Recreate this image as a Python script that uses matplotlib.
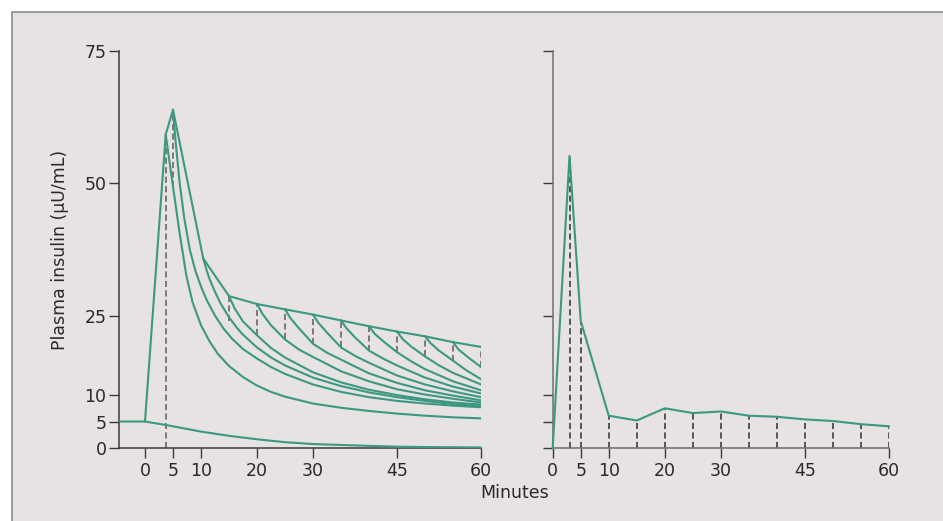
import matplotlib
matplotlib.use("Agg")
import matplotlib.pyplot as plt
from matplotlib.patches import Rectangle

# top line of the left panel (basal, rise, peaks, envelope)
env_t = [-5, 0, 3.7, 5, 10.4, 15, 20, 25, 30, 35, 40, 45, 50, 55, 60]
env_v = [5, 5, 59.2, 63.9, 35.8, 28.7, 27.2, 26.2, 25.2, 24.1, 23.0, 22.0, 21.1, 20.0, 19.1]

# basal insulin decaying after the start
basal_t = [0, 4, 10, 15, 20, 25, 30, 40, 45, 50, 60]
basal_v = [5, 4.3, 3.1, 2.3, 1.65, 1.1, 0.75, 0.4, 0.25, 0.18, 0.1]

# decay curves, one per pulse
c03_t = [3.7, 5, 6.2, 7.4, 8.5, 10, 11.5, 13, 15, 17.5, 20, 22.5, 25, 30, 35, 40, 45, 50, 55, 60]
c03_v = [59.2, 49.4, 40.5, 32.5, 27.5, 23.2, 20.2, 17.8, 15.5, 13.4, 11.8, 10.6, 9.7, 8.4, 7.6, 7.0, 6.5, 6.1, 5.8, 5.6]
c05_t = [5, 5.5, 6.2, 7, 8, 9, 10, 11, 12.5, 14, 15.5, 17.5, 20, 22.5, 25, 30, 35, 40, 45, 50, 55, 60]
c05_v = [63.9, 57.5, 50.0, 43.5, 37.5, 33.5, 30.5, 28.0, 25.0, 22.6, 20.7, 18.7, 16.9, 15.3, 14.0, 12.0, 10.6, 9.6, 8.9, 8.4, 8.0, 7.7]
c10_t = [10.4, 11, 11.5, 12.5, 13.5, 15, 16.5, 17.5, 20, 22.5, 25, 30, 35, 40, 45, 50, 55, 60]
c10_v = [35.8, 33.6, 32.0, 29.5, 27.3, 24.7, 22.6, 21.4, 19.0, 17.1, 15.6, 13.3, 11.7, 10.5, 9.6, 8.9, 8.3, 7.9]
c15_t = [15, 16, 17.5, 20, 22.5, 25, 30, 35, 40, 45, 50, 55, 60]
c15_v = [28.7, 26.4, 23.9, 21.3, 18.9, 17.1, 14.3, 12.4, 11.0, 10.0, 9.2, 8.6, 8.2]
c20_t = [20, 21, 22.5, 25, 27.5, 30, 35, 40, 45, 50, 55, 60]
c20_v = [27.2, 25.3, 23.2, 20.5, 18.6, 17.2, 14.5, 12.6, 11.1, 10.1, 9.3, 8.6]
c25_t = [25, 26, 27.5, 30, 32.5, 35, 40, 45, 50, 55, 60]
c25_v = [26.2, 24.5, 22.6, 19.7, 18.0, 16.7, 14.1, 12.3, 10.9, 9.9, 9.0]
c30_t = [30, 31, 32.5, 35, 37.5, 40, 45, 50, 55, 60]
c30_v = [25.2, 23.6, 21.8, 19.0, 17.4, 16.1, 13.7, 12.0, 10.7, 9.6]
c35_t = [35, 36, 37.5, 40, 42.5, 45, 50, 55, 60]
c35_v = [24.1, 22.6, 20.9, 18.4, 16.9, 15.6, 13.3, 11.6, 10.3]
c40_t = [40, 41, 42.5, 45, 47.5, 50, 55, 60]
c40_v = [23.0, 21.6, 20.2, 18.1, 16.4, 14.9, 12.6, 10.9]
c45_t = [45, 46, 47.5, 50, 52.5, 55, 60]
c45_v = [22.0, 20.6, 19.2, 17.3, 15.6, 14.2, 12.0]
c50_t = [50, 51, 52.5, 55, 57.5, 60]
c50_v = [21.1, 19.8, 18.4, 16.5, 14.6, 13.0]
c55_t = [55, 56, 57.5, 60]
c55_v = [20.0, 18.6, 17.3, 15.3]

curves = [(c03_t, c03_v), (c05_t, c05_v), (c10_t, c10_v), (c15_t, c15_v),
          (c20_t, c20_v), (c25_t, c25_v), (c30_t, c30_v), (c35_t, c35_v),
          (c40_t, c40_v), (c45_t, c45_v), (c50_t, c50_v), (c55_t, c55_v)]

# dashed increments in the left panel
drop_t = [3.7, 5, 15, 20, 25, 30, 35, 40, 45, 50, 55, 60]
drop_top = [59.2, 63.9, 28.7, 27.2, 26.2, 25.2, 24.1, 23.0, 22.0, 21.1, 20.0, 19.1]
drop_bot = [0, 49.4, 23.9, 21.3, 20.5, 19.7, 19.0, 18.4, 18.1, 17.3, 16.5, 15.3]

# right panel
r_t = [0, 3, 5, 10, 15, 20, 25, 30, 35, 40, 45, 50, 55, 60]
r_v = [0, 55.2, 24.0, 6.1, 5.2, 7.5, 6.6, 6.9, 6.1, 5.9, 5.4, 5.1, 4.5, 4.1]

xticks = [0, 5, 10, 20, 30, 45, 60]
yticks = [0, 5, 10, 25, 50, 75]

teal = "#3c9883"
dash_col = "#5c5c5c"
bg = "#e6e3e2"
fnt = "DejaVu Sans"
fs = 12.5
txt_col = "#2a2a2a"

fig = plt.figure(figsize=(9.43, 5.21), dpi=100)
fig.patch.set_facecolor("white")
fig.patches.append(Rectangle((12 / 943, -0.05), 1.0, 1 - 12 / 521 + 0.05,
                             transform=fig.transFigure, facecolor=bg,
                             edgecolor="#8c8c8c", linewidth=1.2, zorder=-10))

ax1 = fig.add_axes([119 / 943, 73 / 521, 362 / 943, 397 / 521])
ax2 = fig.add_axes([552.7 / 943, 73 / 521, 336.3 / 943, 397 / 521])

for ax in (ax1, ax2):
    ax.set_zorder(1)
    ax.set_facecolor("none")
    for s in ("top", "right"):
        ax.spines[s].set_visible(False)
    for s in ("left", "bottom"):
        ax.spines[s].set_color("#3a3a3a")
        ax.spines[s].set_linewidth(1.1)
    ax.set_ylim(0, 75)
    ax.set_yticks(yticks)
    ax.set_xticks(xticks)
    ax.set_xticklabels([str(v) for v in xticks], fontfamily=fnt, fontsize=fs, color=txt_col)
    ax.tick_params(direction="out", length=7, width=1.0, color="#3a3a3a", pad=3)

ax1.set_xlim(-4.64, 60)
ax1.set_yticklabels([str(v) for v in yticks], fontfamily=fnt, fontsize=fs, color=txt_col)
ax1.tick_params(axis="y", pad=2)
ax2.set_xlim(0, 60)
ax2.set_yticklabels([])
ax2.spines["left"].set_color("#6e6e6e")
ax2.spines["bottom"].set_color("#6e6e6e")

# left panel
ax1.vlines(drop_t, drop_bot, drop_top, colors=dash_col, linestyles=(0, (4, 2.2)),
           linewidth=1.1, zorder=2)
ax1.plot(basal_t, basal_v, color=teal, lw=1.5, zorder=3)
for ct, cv in curves:
    ax1.plot(ct, cv, color=teal, lw=1.5, zorder=3, solid_joinstyle="round")
ax1.plot(env_t, env_v, color=teal, lw=1.5, zorder=4, solid_joinstyle="miter")

# right panel
ax2.vlines(r_t[1:], 0, r_v[1:], colors="#2e2e2e", linestyles=(0, (4, 2.2)),
           linewidth=1.1, zorder=2)
ax2.plot(r_t, r_v, color=teal, lw=1.5, zorder=3, clip_on=False)

fig.text(60 / 943, 1 - 250 / 521, "Plasma insulin (\u00b5U/mL)", rotation=90,
         ha="center", va="center", fontfamily=fnt, fontsize=fs, color=txt_col)
fig.text(515 / 943, 1 - 493 / 521, "Minutes", ha="center", va="center",
         fontfamily=fnt, fontsize=fs, color=txt_col)

fig.savefig("out.png", dpi=100, facecolor=fig.get_facecolor())
